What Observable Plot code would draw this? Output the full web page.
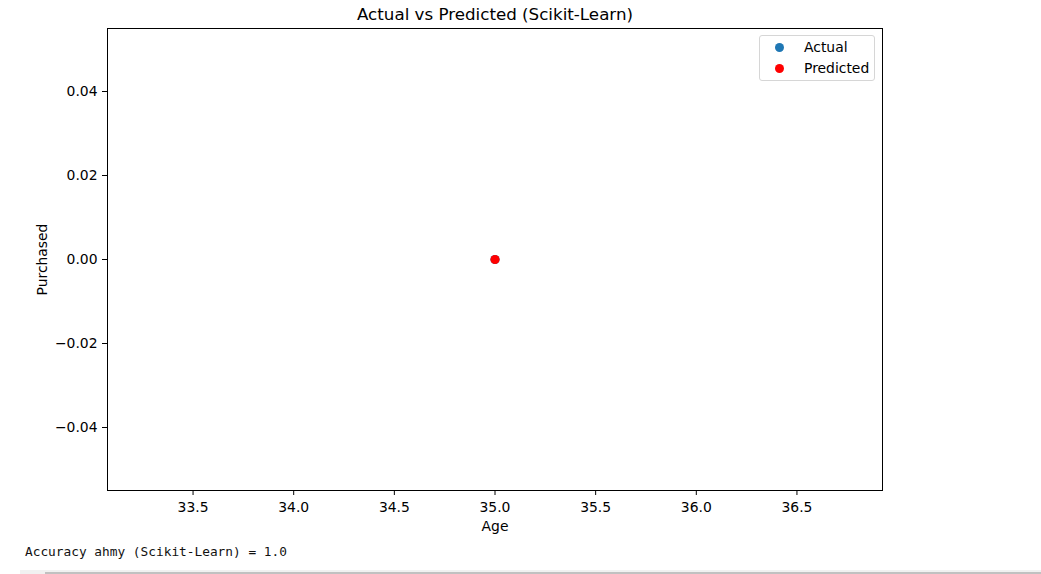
<!DOCTYPE html>
<html>
<head>
<meta charset="utf-8">
<script src="https://cdn.jsdelivr.net/npm/d3@7"></script>
<script src="https://cdn.jsdelivr.net/npm/@observablehq/plot@0.6"></script>
<style>
  html, body { margin: 0; padding: 0; background: #fff; width: 1041px; height: 574px; overflow: hidden; }
  #wrap { position: relative; width: 1041px; height: 574px; font-family: "DejaVu Sans", sans-serif; }
  #chart { position: absolute; left: 0; top: 0; }
  #legend { position: absolute; left: 759px; top: 35px; width: 116px; height: 46px; border: 1px solid #d6d6d6; border-radius: 3px; background: rgba(255,255,255,0.8); box-sizing: border-box; font-size: 13.9px; }
  .lg { position: absolute; left: 0; height: 20px; display: flex; align-items: center; }
  .lg span.m { width: 9px; height: 9px; border-radius: 50%; display: inline-block; margin-left: 15px; margin-right: 20px; }
  #caption { position: absolute; left: 25px; top: 544px; font-family: "DejaVu Sans Mono", monospace; font-size: 12.8px; color: #111; white-space: pre; }
  #scroll { position: absolute; left: 20px; top: 570px; width: 1021px; height: 4px; background: #f1f1f1; }
  #thumb { position: absolute; left: 25px; top: 2px; right: 0; height: 2px; background: #c1c1c1; }
</style>
</head>
<body>
<div id="wrap">
  <div id="chart"></div>
  <div id="legend"></div>
  <div id="caption"></div>
  <div id="scroll"><div id="thumb"></div></div>
</div>
<script>
// Data
const ages = [35];
const actualPurchased = [0];
const predictedPurchased = [0];
const seriesNames = ["Actual", "Predicted"];
const seriesColors = ["#1f77b4", "#ff0000"];
const xTicks = [33.5, 34.0, 34.5, 35.0, 35.5, 36.0, 36.5];
const yTicks = [-0.04, -0.02, 0.00, 0.02, 0.04];
const xDomain = [33.075, 36.925];
const yDomain = [-0.055, 0.055];
const titleText = "Actual vs Predicted (Scikit-Learn)";
const xLabel = "Age";
const yLabel = "Purchased";
const captionText = "Accuracy ahmy (Scikit-Learn) = 1.0";

const actual = ages.map((a, i) => ({age: a, value: actualPurchased[i]}));
const predicted = ages.map((a, i) => ({age: a, value: predictedPurchased[i]}));

const fmtY = d => (d < 0 ? "\u2212" : "") + Math.abs(d).toFixed(2);
const fmtX = d => d.toFixed(1);

const plot = Plot.plot({
  width: 1041,
  height: 536,
  marginLeft: 107,
  marginRight: 159,
  marginTop: 28,
  marginBottom: 46,
  style: {fontFamily: "DejaVu Sans", fontSize: "13.9px", color: "#000", background: "transparent"},
  x: {domain: xDomain},
  y: {domain: yDomain},
  marks: [
    Plot.axisX({ticks: xTicks, tickFormat: fmtX, tickSize: 5, tickPadding: 7, fontSize: 13.9, label: null}),
    Plot.axisY({ticks: yTicks, tickFormat: fmtY, tickSize: 5, tickPadding: 5, fontSize: 13.9, label: null}),
    Plot.frame({stroke: "#000", strokeWidth: 1}),
    Plot.dot(actual, {x: "age", y: "value", r: 4.6, fill: seriesColors[0], stroke: "none"}),
    Plot.dot(predicted, {x: "age", y: "value", r: 4.6, fill: seriesColors[1], stroke: "none"}),
    Plot.text([titleText], {text: d => d, frameAnchor: "top", dy: -20, fontSize: 16.7, fill: "#000"}),
    Plot.text([xLabel], {text: d => d, frameAnchor: "bottom", dy: 40, fontSize: 13.9, fill: "#000"}),
    Plot.text([yLabel], {text: d => d, frameAnchor: "left", textAnchor: "middle", dx: -65, rotate: -90, fontSize: 13.9, fill: "#000"})
  ]
});
document.getElementById("chart").appendChild(plot);

const legend = document.getElementById("legend");
seriesNames.forEach((name, i) => {
  const row = document.createElement("div");
  row.className = "lg";
  row.style.top = (1 + i * 21) + "px";
  const m = document.createElement("span");
  m.className = "m";
  m.style.background = seriesColors[i];
  const t = document.createElement("span");
  t.textContent = name;
  row.appendChild(m);
  row.appendChild(t);
  legend.appendChild(row);
});
document.getElementById("caption").textContent = captionText;
</script>
</body>
</html>
